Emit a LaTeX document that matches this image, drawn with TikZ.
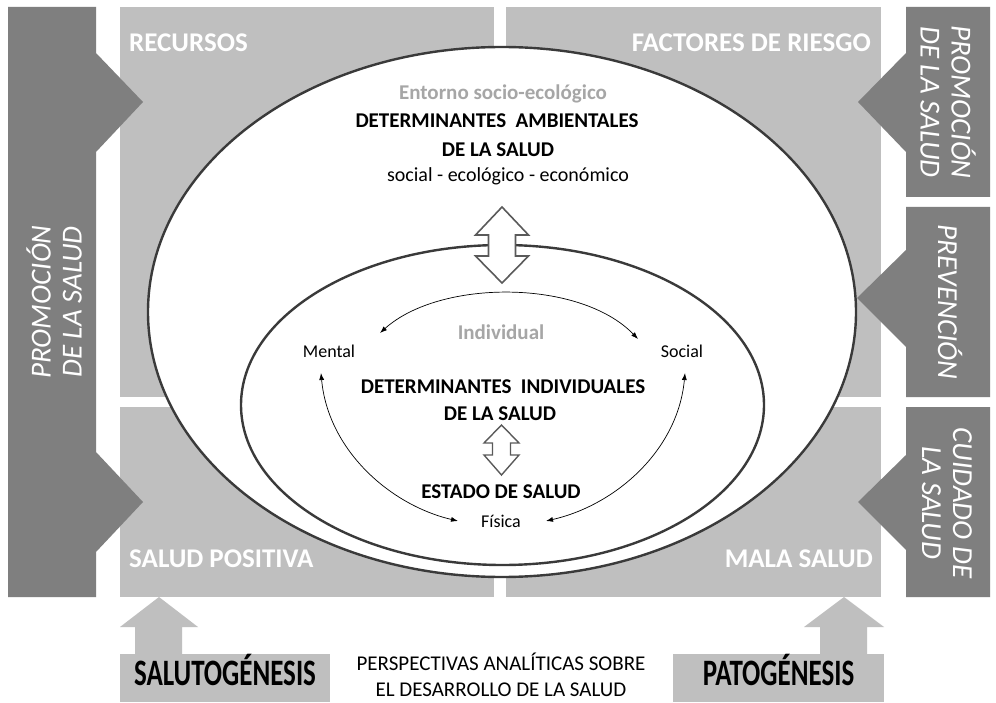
\documentclass[tikz,border=0pt]{standalone}
\usepackage{fontspec}
\usepackage{graphicx}
\setmainfont{Carlito}
\usetikzlibrary{arrows.meta}

\definecolor{bardark}{HTML}{7F7F7F}
\definecolor{boxlight}{HTML}{BFBFBF}
\definecolor{ringline}{HTML}{3A3A3A}
\definecolor{arrowline}{HTML}{5A5A5A}
\definecolor{softtext}{HTML}{A6A6A6}

\begin{document}
\begin{tikzpicture}[x=1pt,y=-1pt,
  field/.style={fill=boxlight,draw=none},
  bar/.style={fill=bardark,draw=none},
  fieldlabel/.style={text=white,font=\bfseries\fontsize{27}{30}\selectfont,inner sep=0pt},
  barlabel/.style={text=white,font=\itshape\fontsize{29}{31}\selectfont,align=center,inner sep=0pt},
  ring/.style={draw=ringline,line width=2.4pt,fill=white},
  heading/.style={font=\bfseries\fontsize{21}{26}\selectfont,inner sep=0pt,anchor=base},
  plain/.style={font=\fontsize{18}{22}\selectfont,inner sep=0pt,anchor=base},
  soft/.style={text=softtext,font=\bfseries\fontsize{21}{25}\selectfont,inner sep=0pt,anchor=base},
  caption/.style={font=\fontsize{21}{26}\selectfont,inner sep=0pt,anchor=base},
  origin/.style={font=\bfseries\fontsize{27}{30}\selectfont,inner sep=0pt,anchor=base},
  link/.style={{Latex[length=7pt,width=5pt]}-{Latex[length=7pt,width=5pt]},line width=0.7pt},
  blockarrow/.style={draw=arrowline,line width=1.6pt,fill=white,line join=miter},
  uparrow/.style={fill=boxlight,draw=none},
]
\useasboundingbox[fill=white] (0,0) rectangle (996,703);

% four quadrant fields
\fill[field] (120,7) rectangle (494,397);
\fill[field] (506,7) rectangle (881,397);
\fill[field] (120,407) rectangle (494,597);
\fill[field] (506,407) rectangle (881,597);

% bottom perspectives with their upward arrows
\fill[uparrow] (159,597) -- (198,627) -- (182,627) -- (182,655) -- (135,655) -- (135,627) -- (120,627) -- cycle;
\fill[field] (120,654) rectangle (330,702);
\fill[uparrow] (844,597) -- (884,627) -- (867,627) -- (867,655) -- (820,655) -- (820,627) -- (804,627) -- cycle;
\fill[field] (673,654) rectangle (884,702);

% socio-ecological environment and the individual
\draw[ring] (502,312) ellipse [x radius=354, y radius=265];
\draw[ring] (502.5,405) ellipse [x radius=261.5, y radius=160];

% exchange between the environment and the individual
\draw[blockarrow] (502,207) -- (528.5,235) -- (515.5,235) -- (515.5,256) -- (528.5,256) -- (502,283)
  -- (475.5,256) -- (488.5,256) -- (488.5,235) -- (475.5,235) -- cycle;

% side bars with their pointers
\fill[bar] (8,7) -- (96,7) -- (96,53) -- (143,102) -- (96,152) -- (96,452) -- (143,502) -- (96,552)
  -- (96,597) -- (8,597) -- cycle;
\fill[bar] (906,7) -- (990,7) -- (990,197) -- (906,197) -- (906,152) -- (858,102) -- (906,53) -- cycle;
\fill[bar] (906,207) -- (990,207) -- (990,397) -- (906,397) -- (906,347) -- (857,298) -- (906,250) -- cycle;
\fill[bar] (906,407) -- (990,407) -- (990,597) -- (906,597) -- (906,550) -- (858,502) -- (906,455) -- cycle;

\node[barlabel,rotate=90] (promoL) at (54,302) {PROMOCIÓN\\DE LA SALUD};
\node[barlabel,rotate=-90] (promoR) at (948,102) {PROMOCIÓN\\DE LA SALUD};
\node[barlabel,rotate=-90] (preven) at (950,302) {PREVENCIÓN};
\node[barlabel,rotate=-90] (cuidado) at (947,503) {CUIDADO DE\\LA SALUD};

% field titles
\node[fieldlabel,anchor=base west] (recursos) at (129,52) {RECURSOS};
\node[fieldlabel,anchor=base east] (riesgo) at (871,52) {FACTORES DE RIESGO};
\node[fieldlabel,anchor=base west] (positiva) at (129,567) {SALUD POSITIVA};
\node[fieldlabel,anchor=base east] (mala) at (873,567) {MALA SALUD};

% environment texts
\node[soft] (entorno) at (503,100) {Entorno socio-ecológico};
\node[heading] (ambA) at (497,128) {DETERMINANTES\ \ AMBIENTALES};
\node[heading] (ambB) at (498,157) {DE LA SALUD};
\node[plain,font=\fontsize{20}{24}\selectfont] (ambC) at (508,182) {social - ecológico - económico};

% individual texts
\node[soft] (individual) at (501,340) {Individual};
\node[plain] (mental) at (329,357) {Mental};
\node[plain] (social) at (682,357) {Social};
\node[heading] (indA) at (503,393) {DETERMINANTES\ \ INDIVIDUALES};
\node[heading] (indB) at (500,420) {DE LA SALUD};
\node[heading] (estado) at (501,498) {ESTADO DE SALUD};
\node[plain] (fisica) at (501,527) {Física};

% determinants <-> health status
\draw[blockarrow,line width=1.4pt] (501.5,425) -- (519,443) -- (510.5,443) -- (510.5,455) -- (519,455) -- (501.5,475)
  -- (484,455) -- (492.5,455) -- (492.5,443) -- (484,443) -- cycle;

% links between the three dimensions
\coordinate (mentalUp) at (380,333);
\coordinate (socialUp) at (638,339);
\coordinate (mentalDown) at (321,373);
\coordinate (socialDown) at (685,373);
\coordinate (fisicaL) at (458,521);
\coordinate (fisicaR) at (546,521);
\draw[link] (mentalUp) .. controls (440,279) and (580,279) .. (socialUp);
\draw[link] (mentalDown) .. controls (328,450) and (390,505) .. (fisicaL);
\draw[link] (socialDown) .. controls (678,450) and (616,505) .. (fisicaR);

% analytical perspectives
\node[origin] (saluto) at (225,685) {\scalebox{1}[1.38]{SALUTOGÉNESIS}};
\node[origin] (pato) at (778.5,685) {\scalebox{1}[1.38]{PATOGÉNESIS}};
\node[caption] (perspA) at (501,670) {PERSPECTIVAS ANALÍTICAS SOBRE};
\node[caption] (perspB) at (501,696) {EL DESARROLLO DE LA SALUD};
\end{tikzpicture}
\end{document}
